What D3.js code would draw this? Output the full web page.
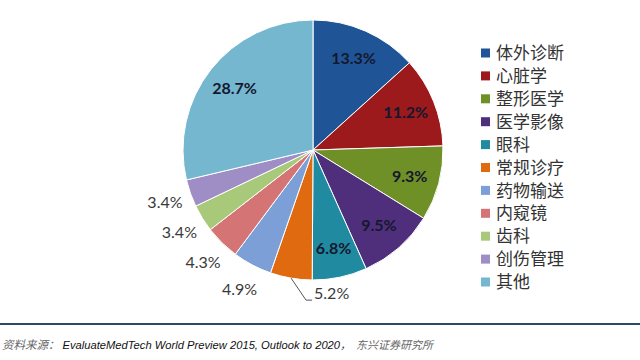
<!DOCTYPE html>
<html><head><meta charset="utf-8">
<script src="https://cdn.jsdelivr.net/npm/d3@7"></script>
<style>html,body{margin:0;padding:0;background:#fff;}svg{display:block;}</style>
</head><body>
<svg id="c" width="640" height="360"></svg>
<script>
const categories = ["体外诊断","心脏学","整形医学","医学影像","眼科","常规诊疗","药物输送","内窥镜","齿科","创伤管理","其他"];
const shares = [13.3, 11.2, 9.3, 9.5, 6.8, 5.2, 4.9, 4.3, 3.4, 3.4, 28.7];
const colors = ["#1F5597","#9C1A1C","#6F8F27","#4F2F7C","#208AA0","#E06A10","#7B9FD6","#D47474","#A9C97A","#9F8DC6","#74B7CF"];
const sourceLabel = "资料来源：";
const sourceText = "EvaluateMedTech World Preview 2015, Outlook to 2020";
const sourceOrg = "东兴证券研究所";

const svg = d3.select("#c");
const cx = 313, cy = 150, R = 130;
const data = categories.map((c,i)=>({cat:c, v:shares[i], i}));
const pie = d3.pie().sort(null).value(d=>d.v).startAngle(0).endAngle(2*Math.PI);
const arcs = pie(data);
const arc = d3.arc().innerRadius(0).outerRadius(R);
const color = d3.scaleOrdinal().domain(categories).range(colors);
const g = svg.append("g").attr("transform",`translate(${cx},${cy})`);
g.selectAll("path").data(arcs).join("path")
  .attr("d",arc).attr("fill",d=>color(d.data.cat))
  .attr("stroke","#fff").attr("stroke-width",1);

const fmt = d=>d.toFixed(1)+"%";
const polar = (r,a)=>[r*Math.sin(a), -r*Math.cos(a)];
const inside = arcs.filter(d=>d.data.v>=6);
const labelArc = d3.arc().innerRadius(100).outerRadius(100);
g.selectAll("text.in").data(inside).join("text").attr("class","in")
  .attr("transform",d=>`translate(${labelArc.centroid(d)})`)
  .attr("text-anchor","middle").attr("dy","0.36em")
  .attr("font-family","Lato, 'Open Sans', sans-serif").attr("font-weight","bold")
  .attr("font-size",16).attr("fill","#14182e").text(d=>fmt(d.data.v));

const leader = arcs.find(d=>d.data.v>=5 && d.data.v<6);
const outside = arcs.filter(d=>d.data.v<5);
const outArc = d3.arc().innerRadius(157).outerRadius(157);
g.selectAll("text.out").data(outside).join("text").attr("class","out")
  .attr("transform",d=>`translate(${outArc.centroid(d)})`)
  .attr("text-anchor","middle").attr("dy","0.36em")
  .attr("font-family","Lato, 'Open Sans', sans-serif")
  .attr("font-size",16).attr("fill","#3a3a3a").text(d=>fmt(d.data.v));

{
  const mid=(leader.startAngle+leader.endAngle)/2;
  const [x0,y0]=polar(R, mid);
  const [x1,y1]=[x0+15, y0+22];
  g.append("path").attr("d",`M${x0},${y0}L${x1},${y1}L${x1+6},${y1}`)
    .attr("fill","none").attr("stroke","#555").attr("stroke-width",1);
  g.append("text").attr("x",x1+8).attr("y",y1).attr("dy","-0.05em")
    .attr("font-family","Lato, 'Open Sans', sans-serif")
    .attr("font-size",16).attr("fill","#3a3a3a").text(fmt(leader.data.v));
}

// legend
const ly = d3.scalePoint().domain(categories).range([53,282]);
const lg = svg.append("g");
lg.selectAll("rect").data(categories).join("rect")
  .attr("x",481).attr("y",d=>ly(d)-4.5).attr("width",9).attr("height",9)
  .attr("fill",d=>color(d));
lg.selectAll("text").data(categories).join("text")
  .attr("x",496).attr("y",d=>ly(d)).attr("dy","0.36em")
  .attr("font-family","'Noto Sans CJK SC', sans-serif").attr("font-size",17)
  .attr("fill","#333").text(d=>d);

// footer
svg.append("line").attr("x1",0).attr("x2",640).attr("y1",324).attr("y2",324)
  .attr("stroke","#2E4A66").attr("stroke-width",2);
const ft = svg.append("text").attr("x",2).attr("y",349).attr("font-style","italic");
ft.append("tspan").attr("font-family","'Noto Sans CJK SC', sans-serif")
  .attr("font-size",11.5).attr("fill","#666").text(sourceLabel);
ft.append("tspan").attr("dx",3).attr("font-family","'Liberation Sans', Arial, sans-serif")
  .attr("font-size",11.2).attr("fill","#111").text(sourceText);
ft.append("tspan").attr("font-family","'Noto Sans CJK SC', sans-serif")
  .attr("font-size",11).attr("fill","#444").text("，");
ft.append("tspan").attr("dx",5).attr("font-family","'Noto Sans CJK SC', sans-serif")
  .attr("font-size",11).attr("fill","#666").text(sourceOrg);
</script>
</body></html>
